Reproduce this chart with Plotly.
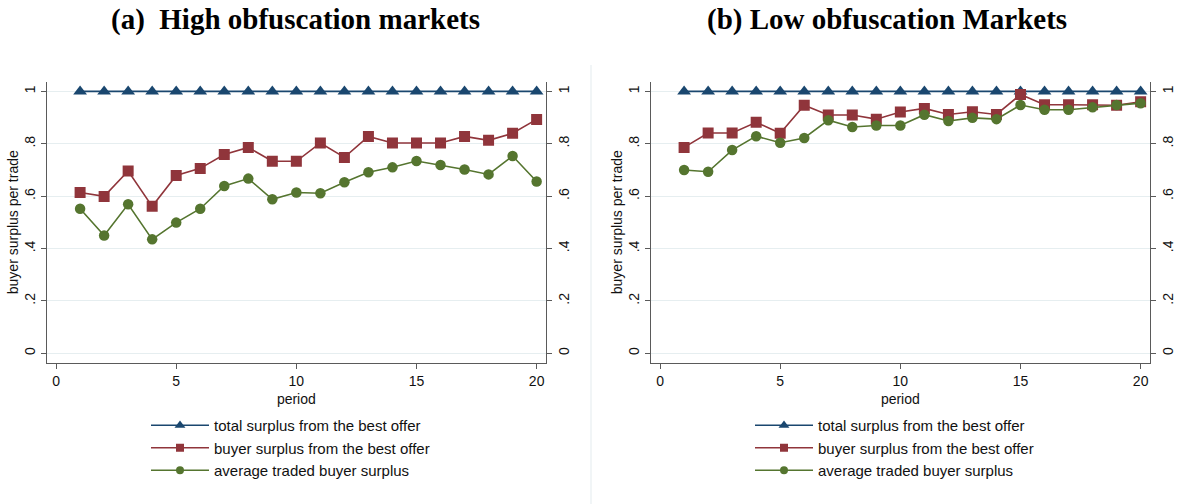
import plotly.graph_objects as go

# ---- data -------------------------------------------------------------
periods = list(range(1, 21))

high_total = [1.0] * 20
high_buyer_best = [0.614, 0.599, 0.696, 0.561, 0.679, 0.706, 0.759, 0.786, 0.733, 0.733,
                   0.803, 0.748, 0.828, 0.803, 0.803, 0.803, 0.828, 0.813, 0.840, 0.893]
high_avg_traded = [0.552, 0.450, 0.569, 0.435, 0.499, 0.552, 0.639, 0.667, 0.588, 0.614,
                   0.611, 0.653, 0.691, 0.710, 0.734, 0.719, 0.702, 0.683, 0.753, 0.656]

low_total = [1.0] * 20
low_buyer_best = [0.786, 0.841, 0.841, 0.882, 0.840, 0.947, 0.910, 0.910, 0.894, 0.921,
                  0.935, 0.912, 0.922, 0.912, 0.988, 0.949, 0.949, 0.949, 0.947, 0.960]
low_avg_traded = [0.700, 0.693, 0.776, 0.829, 0.804, 0.822, 0.890, 0.864, 0.870, 0.870,
                  0.911, 0.887, 0.899, 0.894, 0.948, 0.930, 0.930, 0.939, 0.948, 0.955]

series_names = ["total surplus from the best offer",
                "buyer surplus from the best offer",
                "average traded buyer surplus"]
panel_titles = ["<b>(a)\u00a0 High obfuscation markets</b>",
                "<b>(b) Low obfuscation Markets</b>"]
y_title = "buyer surplus per trade"
x_title = "period"

y_tickvals = [0, 0.2, 0.4, 0.6, 0.8, 1.0]
y_ticktext = ["0", ".2", ".4", ".6", ".8", "1"]
x_tickvals = [0, 5, 10, 15, 20]

# ---- styling ------------------------------------------------------------
W, H = 1192, 504
colors = ["#1a476f", "#90353b", "#55752f"]
symbols = ["triangle-up", "square", "circle"]
msizes = [12, 11, 10.5]
legend_msizes = [9.5, 8, 8]
FONT = "Liberation Sans, Arial, sans-serif"
AXIS_COL = "#5a5a5a"
GRID_COL = "#e6eef0"

def px_x(v):
    return v / W

def px_y(v):
    return 1 - v / H

fig = go.Figure()

panels = [
    dict(data=[high_total, high_buyer_best, high_avg_traded], x="x", y="y", legend="legend"),
    dict(data=[low_total, low_buyer_best, low_avg_traded], x="x2", y="y3", legend="legend2"),
]

for p in panels:
    for i, vals in enumerate(p["data"]):
        fig.add_trace(go.Scatter(
            x=periods, y=vals, mode="lines+markers", name=series_names[i],
            xaxis=p["x"], yaxis=p["y"], showlegend=False,
            line=dict(color=colors[i], width=1.6),
            marker=dict(symbol=symbols[i], size=msizes[i], color=colors[i], line=dict(width=0)),
        ))
    # legend entries with smaller key symbols
    for i in range(3):
        fig.add_trace(go.Scatter(
            x=[None], y=[None], mode="lines+markers", name=series_names[i],
            xaxis=p["x"], yaxis=p["y"], legend=p["legend"], showlegend=True,
            line=dict(color=colors[i], width=1.6),
            marker=dict(symbol=symbols[i], size=legend_msizes[i], color=colors[i],
                        line=dict(width=0)),
        ))

# invisible traces to activate the right-hand y axes
fig.add_trace(go.Scatter(x=[None], y=[None], xaxis="x", yaxis="y2", showlegend=False, hoverinfo="skip"))
fig.add_trace(go.Scatter(x=[None], y=[None], xaxis="x2", yaxis="y4", showlegend=False, hoverinfo="skip"))

x_doms = [[px_x(46.7), px_x(546)], [px_x(650.7), px_x(1150)]]
y_dom = [px_y(362.7), px_y(81.7)]
x_range = [-0.39, 20.39]
y_range = [-0.036, 1.037]

tickfont = dict(family=FONT, size=14, color="#111")

xaxis_common = dict(
    range=x_range, tickvals=x_tickvals, ticks="outside", ticklen=5, tickwidth=1.2,
    tickcolor=AXIS_COL, showline=True, linecolor=AXIS_COL, linewidth=1.4,
    showgrid=False, zeroline=False, tickfont=tickfont,
    title=dict(text=x_title, font=dict(family=FONT, size=14, color="#111"), standoff=6),
)
yaxis_common = dict(
    range=y_range, tickvals=y_tickvals, ticktext=y_ticktext, ticks="outside",
    ticklen=5, tickwidth=1.2, tickcolor=AXIS_COL, showline=True, linecolor=AXIS_COL,
    linewidth=1.4, zeroline=False, tickangle=-90, tickfont=tickfont, domain=y_dom,
)
legend_common = dict(
    xanchor="left", yanchor="top", itemwidth=58, tracegroupgap=0,
    bgcolor="rgba(0,0,0,0)", font=dict(family=FONT, size=15, color="#111"),
)

fig.update_layout(
    width=W, height=H, margin=dict(l=0, r=0, t=0, b=0),
    paper_bgcolor="white", plot_bgcolor="white",
    font=dict(family=FONT, color="#111"),
    xaxis=dict(domain=x_doms[0], anchor="y", **xaxis_common),
    xaxis2=dict(domain=x_doms[1], anchor="y3", **xaxis_common),
    yaxis=dict(anchor="x", side="left", showgrid=True, gridcolor=GRID_COL, gridwidth=1,
               **yaxis_common),
    yaxis2=dict(anchor="x", overlaying="y", side="right", showgrid=False, **yaxis_common),
    yaxis3=dict(anchor="x2", side="left", showgrid=True, gridcolor=GRID_COL, gridwidth=1,
                **yaxis_common),
    yaxis4=dict(anchor="x2", overlaying="y3", side="right", showgrid=False, **yaxis_common),
    legend=dict(x=px_x(146), y=px_y(409), **legend_common),
    legend2=dict(x=px_x(750), y=px_y(409), **legend_common),
    showlegend=True,
)

# y-axis titles
for cx in [13, 617]:
    fig.add_annotation(text=y_title, x=px_x(cx), y=(y_dom[0] + y_dom[1]) / 2,
                       xref="paper", yref="paper", xanchor="center", yanchor="middle",
                       textangle=-90, showarrow=False,
                       font=dict(family=FONT, size=14, color="#111"))

# panel titles
for title, cx in zip(panel_titles, [295, 887]):
    fig.add_annotation(text=title, x=px_x(cx), y=px_y(20), xref="paper", yref="paper",
                       xanchor="center", yanchor="middle", showarrow=False,
                       font=dict(family="Liberation Serif, Times New Roman, serif",
                                 size=29, color="black"))

# thin separator between the two panels
fig.add_shape(type="line", xref="paper", yref="paper",
              x0=px_x(591), x1=px_x(591), y0=0, y1=px_y(65),
              line=dict(color="#e3ebee", width=1))

fig.write_html("out.html")
